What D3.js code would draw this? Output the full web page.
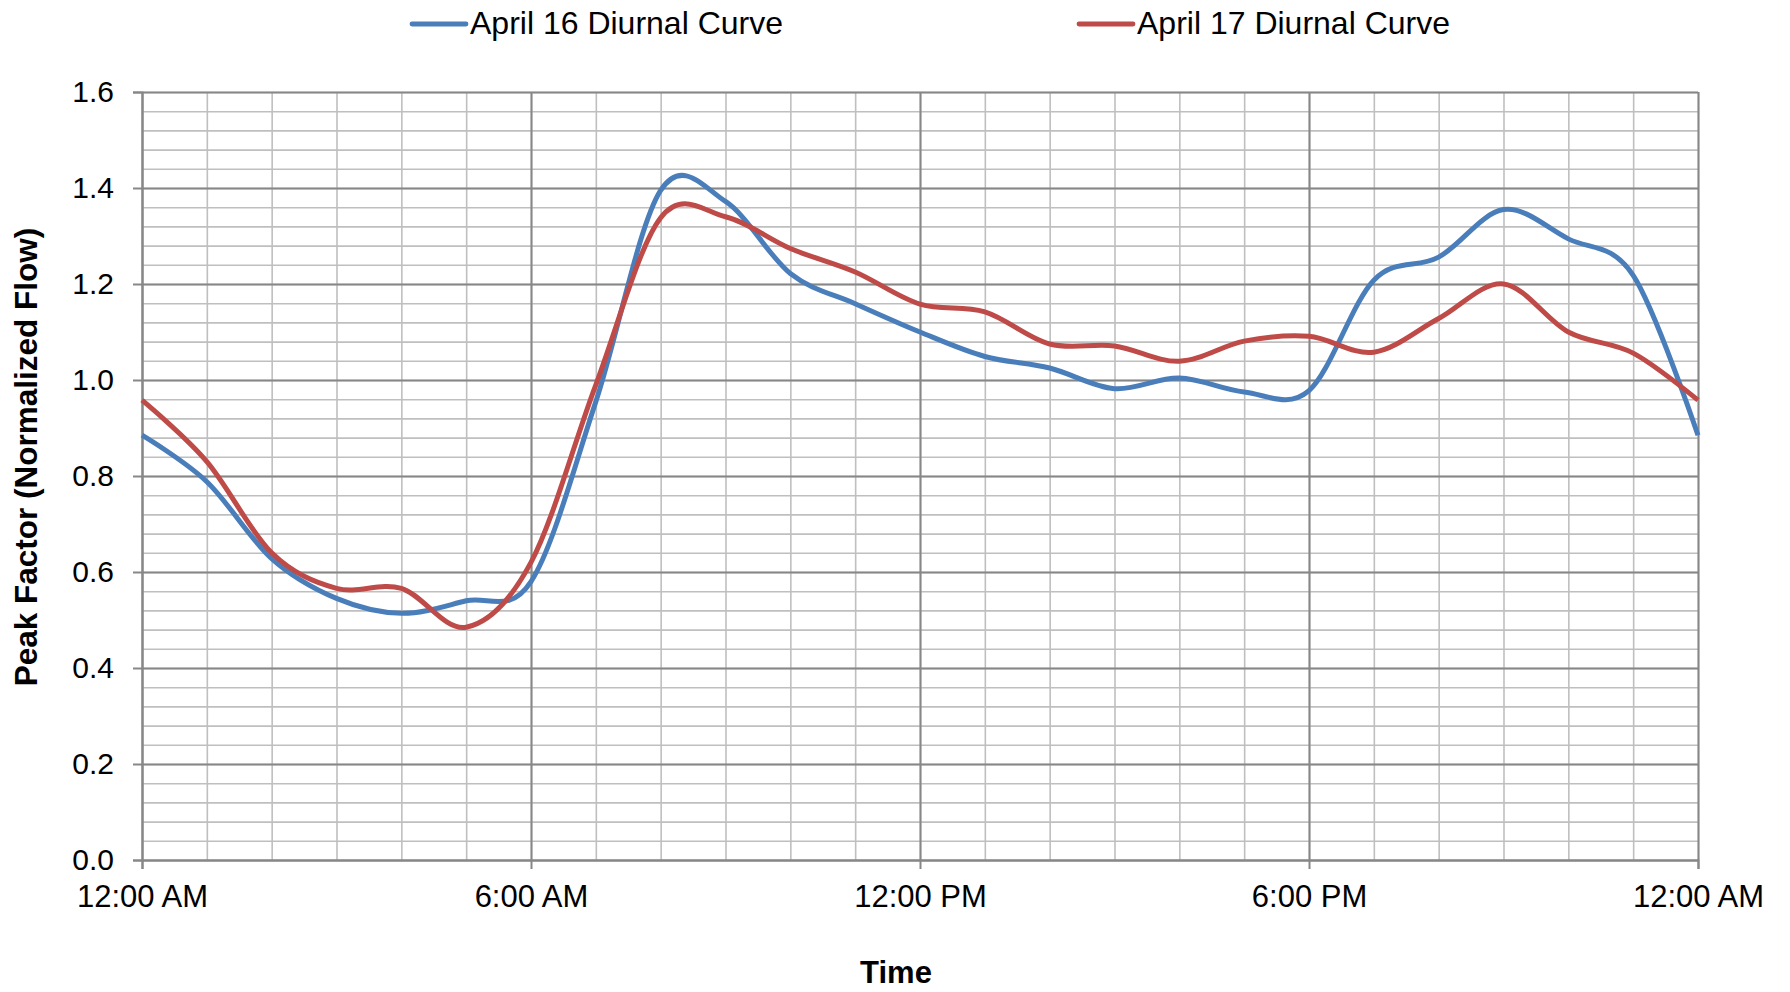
<!DOCTYPE html>
<html>
<head>
<meta charset="utf-8">
<script src="https://cdn.jsdelivr.net/npm/d3@7"></script>
<style>
  body { margin: 0; background: #fff; }
  #chart { width: 1790px; height: 992px; }
  text { font-family: "Liberation Sans", Arial, sans-serif; fill: #000; }
</style>
</head>
<body>
<div id="chart"></div>
<script>
/* DATA */
const hours = [0, 1, 2, 3, 4, 5, 6, 7, 8, 9, 10, 11, 12, 13, 14, 15, 16, 17, 18, 19, 20, 21, 22, 23, 24];
const april16 = [0.885, 0.788, 0.628, 0.545, 0.514, 0.540, 0.580, 0.955, 1.395, 1.372, 1.222, 1.159, 1.100,
                 1.049, 1.025, 0.982, 1.004, 0.975, 0.978, 1.208, 1.256, 1.355, 1.294, 1.218, 0.885];
const april17 = [0.958, 0.830, 0.640, 0.566, 0.566, 0.485, 0.620, 0.990, 1.338, 1.340, 1.274, 1.225, 1.158,
                 1.142, 1.075, 1.071, 1.039, 1.081, 1.091, 1.058, 1.128, 1.200, 1.100, 1.056, 0.958];
const seriesNames = ["April 16 Diurnal Curve", "April 17 Diurnal Curve"];
const seriesColors = ["#4a7ebb", "#be4b48"];
const xTicks = [0, 6, 12, 18, 24];
const xTickLabels = ["12:00 AM", "6:00 AM", "12:00 PM", "6:00 PM", "12:00 AM"];
const yTicks = [0, 0.2, 0.4, 0.6, 0.8, 1.0, 1.2, 1.4, 1.6];

/* SVG CANVAS */
const width = 1790, height = 992;
const margin = {top: 92, left: 142, right: 92, bottom: 132};

const svg = d3.select("#chart")
  .append("svg")
  .attr("width", width)
  .attr("height", height);

/* SCALES */
const xScale = d3.scaleLinear()
  .domain([0, 24])
  .range([margin.left, width - margin.right]);

const yScale = d3.scaleLinear()
  .domain([0, 1.6])
  .range([height - margin.bottom, margin.top]);

const innerW = width - margin.left - margin.right;
const innerH = height - margin.top - margin.bottom;

/* GRIDLINES */
const minorY = d3.range(0, 1.6001, 0.04);
const minorX = hours;

svg.append("g")
  .attr("transform", `translate(${margin.left},0)`)
  .call(d3.axisLeft(yScale).tickValues(minorY).tickSize(-innerW).tickFormat(""))
  .call(g => g.select(".domain").remove())
  .call(g => g.selectAll("line").attr("stroke", "#bfbfbf").attr("stroke-width", 1.6));

svg.append("g")
  .attr("transform", `translate(0,${height - margin.bottom})`)
  .call(d3.axisBottom(xScale).tickValues(minorX).tickSize(-innerH).tickFormat(""))
  .call(g => g.select(".domain").remove())
  .call(g => g.selectAll("line").attr("stroke", "#bfbfbf").attr("stroke-width", 1.6));

svg.append("g")
  .attr("transform", `translate(${margin.left},0)`)
  .call(d3.axisLeft(yScale).tickValues(yTicks).tickSize(-innerW).tickFormat(""))
  .call(g => g.select(".domain").remove())
  .call(g => g.selectAll("line").attr("stroke", "#878787").attr("stroke-width", 2));

svg.append("g")
  .attr("transform", `translate(0,${height - margin.bottom})`)
  .call(d3.axisBottom(xScale).tickValues(xTicks).tickSize(-innerH).tickFormat(""))
  .call(g => g.select(".domain").remove())
  .call(g => g.selectAll("line").attr("stroke", "#878787").attr("stroke-width", 2));

/* AXES */
const yAxis = svg.append("g")
  .attr("transform", `translate(${margin.left},0)`)
  .call(d3.axisLeft(yScale).tickValues(yTicks).tickSize(9).tickPadding(19).tickFormat(d3.format(".1f")));

const xAxis = svg.append("g")
  .attr("transform", `translate(0,${height - margin.bottom})`)
  .call(d3.axisBottom(xScale).tickValues(xTicks).tickSize(9).tickPadding(16)
    .tickFormat((d, i) => xTickLabels[i]));

[yAxis, xAxis].forEach(ax => {
  ax.select(".domain").attr("stroke", "#878787").attr("stroke-width", 2);
  ax.selectAll(".tick line").attr("stroke", "#878787").attr("stroke-width", 2);
  ax.selectAll(".tick text")
    .attr("font-family", "'Liberation Sans', Arial, sans-serif")
    .attr("fill", "#000");
});
yAxis.selectAll(".tick text").attr("font-size", 30);
xAxis.selectAll(".tick text").attr("font-size", 31);

/* LINES */
const line = d3.line()
  .x((d, i) => xScale(hours[i]))
  .y(d => yScale(d))
  .curve(d3.curveCardinal.tension(0));

[april16, april17].forEach((series, k) => {
  svg.append("path")
    .datum(series)
    .attr("d", line)
    .attr("fill", "none")
    .attr("stroke", seriesColors[k])
    .attr("stroke-width", 5)
    .attr("stroke-linejoin", "round");
});

/* LEGEND */
const legendX = [412, 1079];
const legend = svg.selectAll(".legend")
  .data(seriesNames)
  .enter()
  .append("g")
  .attr("class", "legend")
  .attr("transform", (d, i) => `translate(${legendX[i]},24)`);

legend.append("line")
  .attr("x1", 0).attr("x2", 54)
  .attr("y1", 0).attr("y2", 0)
  .attr("stroke", (d, i) => seriesColors[i])
  .attr("stroke-width", 4.8)
  .attr("stroke-linecap", "round");

legend.append("text")
  .attr("x", 58)
  .attr("y", 10)
  .attr("font-size", 32)
  .text(d => d);

/* AXIS LABELS */
svg.append("text")
  .attr("x", 896)
  .attr("y", 983)
  .attr("text-anchor", "middle")
  .attr("font-size", 31)
  .attr("font-weight", "bold")
  .text("Time");

svg.append("text")
  .attr("transform", "translate(37,457) rotate(-90)")
  .attr("text-anchor", "middle")
  .attr("font-size", 31.5)
  .attr("font-weight", "bold")
  .text("Peak Factor (Normalized Flow)");
</script>
</body>
</html>
